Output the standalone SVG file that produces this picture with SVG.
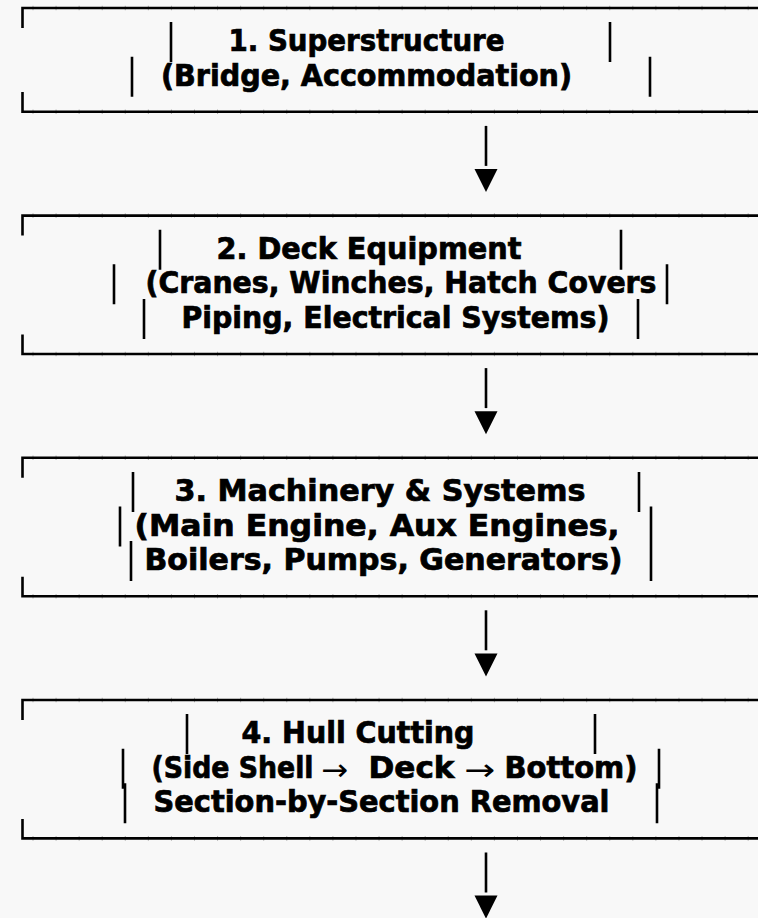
<svg xmlns="http://www.w3.org/2000/svg" width="758" height="918" viewBox="0 0 758 918">
<style>
.bg{fill:#f8f8f8}
.border{fill:none;stroke:#000;stroke-width:2.6;stroke-linejoin:miter}
.tick{fill:none;stroke:#b0b0b0;stroke-width:4.6;stroke-dasharray:1 22.07;stroke-dashoffset:12.57}
.bar{fill:none;stroke:#000;stroke-width:2.6}
.lbl{font-family:"DejaVu Sans Condensed","DejaVu Sans",sans-serif;font-weight:bold;font-size:30.5px;fill:#000;stroke:#000;stroke-width:0.7px}
.arr{font-family:"DejaVu Sans",sans-serif;font-weight:normal;font-size:30px;fill:#000}
.conn{fill:none;stroke:#000;stroke-width:2.6}
.head{fill:#000}
</style>
<defs>
<path id="ah" d="M-11.5,0 H11.5 L0,23 Z"/>
</defs>
<rect class="bg" x="0" y="0" width="758" height="918"/>

<g id="node-1">
<path class="tick" d="M22,8 H758 M22,111.8 H758"/>
<path class="border" d="M22.5,28 V8 H758 M22.5,92 V111.8 H758"/>
<path class="bar" d="M171,22.1 V62.1 M610,22.1 V62.1 M132,56.7 V96.7 M650,56.7 V96.7"/>
<text class="lbl" x="228.5" y="51.1" textLength="276" lengthAdjust="spacingAndGlyphs">1. Superstructure</text>
<text class="lbl" x="161" y="85.7" textLength="411" lengthAdjust="spacingAndGlyphs">(Bridge, Accommodation)</text>
</g>

<g id="node-2">
<path class="tick" d="M22,215.6 H758 M22,354 H758"/>
<path class="border" d="M22.5,235.6 V215.6 H758 M22.5,334.5 V354 H758"/>
<path class="bar" d="M160,229.7 V269.7 M621,229.7 V269.7 M114,264.3 V304.3 M667,264.3 V304.3 M144,298.9 V338.9 M638,298.9 V338.9"/>
<text class="lbl" x="216.5" y="258.7" textLength="305" lengthAdjust="spacingAndGlyphs">2. Deck Equipment</text>
<text class="lbl" x="145.5" y="293.3" textLength="511" lengthAdjust="spacingAndGlyphs">(Cranes, Winches, Hatch Covers</text>
<text class="lbl" x="181.5" y="327.9" textLength="428" lengthAdjust="spacingAndGlyphs">Piping, Electrical Systems)</text>
</g>

<g id="node-3">
<path class="tick" d="M22,457.8 H758 M22,596.2 H758"/>
<path class="border" d="M22.5,477.8 V457.8 H758 M22.5,576.7 V596.2 H758"/>
<path class="bar" d="M133,471.9 V511.9 M639,471.9 V511.9 M120,506.5 V546.5 M651,506.5 V546.5 M131,541.1 V581.1 M651,541.1 V581.1"/>
<text class="lbl" x="174.5" y="500.9" textLength="411" lengthAdjust="spacingAndGlyphs">3. Machinery &amp; Systems</text>
<text class="lbl" x="134.5" y="535.5" textLength="485" lengthAdjust="spacingAndGlyphs">(Main Engine, Aux Engines,</text>
<text class="lbl" x="144.5" y="570.1" textLength="478" lengthAdjust="spacingAndGlyphs">Boilers, Pumps, Generators)</text>
</g>

<g id="node-4">
<path class="tick" d="M22,700 H758 M22,838.4 H758"/>
<path class="border" d="M22.5,720 V700 H758 M22.5,818.9 V838.4 H758"/>
<path class="bar" d="M187,714.1 V754.1 M595,714.1 V754.1 M123,748.7 V788.7 M659,748.7 V788.7 M125,783.3 V823.3 M657,783.3 V823.3"/>
<text class="lbl" x="241.5" y="743.1" textLength="233" lengthAdjust="spacingAndGlyphs">4. Hull Cutting</text>
<text class="lbl" x="151.5" y="777.7" textLength="162" lengthAdjust="spacingAndGlyphs">(Side Shell</text>
<text class="arr" x="321" y="780" textLength="27" lengthAdjust="spacingAndGlyphs">→</text>
<text class="lbl" x="368.5" y="777.7" textLength="86" lengthAdjust="spacingAndGlyphs">Deck</text>
<text class="arr" x="464" y="780" textLength="31" lengthAdjust="spacingAndGlyphs">→</text>
<text class="lbl" x="504.5" y="777.7" textLength="133" lengthAdjust="spacingAndGlyphs">Bottom)</text>
<text class="lbl" x="153.5" y="812.3" textLength="456" lengthAdjust="spacingAndGlyphs">Section-by-Section Removal</text>
</g>

<g id="connectors">
<path class="conn" d="M486,125.9 V165.9"/>
<use class="head" href="#ah" x="486" y="169"/>
<path class="conn" d="M486,368.1 V408.1"/>
<use class="head" href="#ah" x="486" y="411.2"/>
<path class="conn" d="M486,610.3 V650.3"/>
<use class="head" href="#ah" x="486" y="653.4"/>
<path class="conn" d="M486,852.5 V892.5"/>
<use class="head" href="#ah" x="486" y="895.6"/>
</g>
</svg>
